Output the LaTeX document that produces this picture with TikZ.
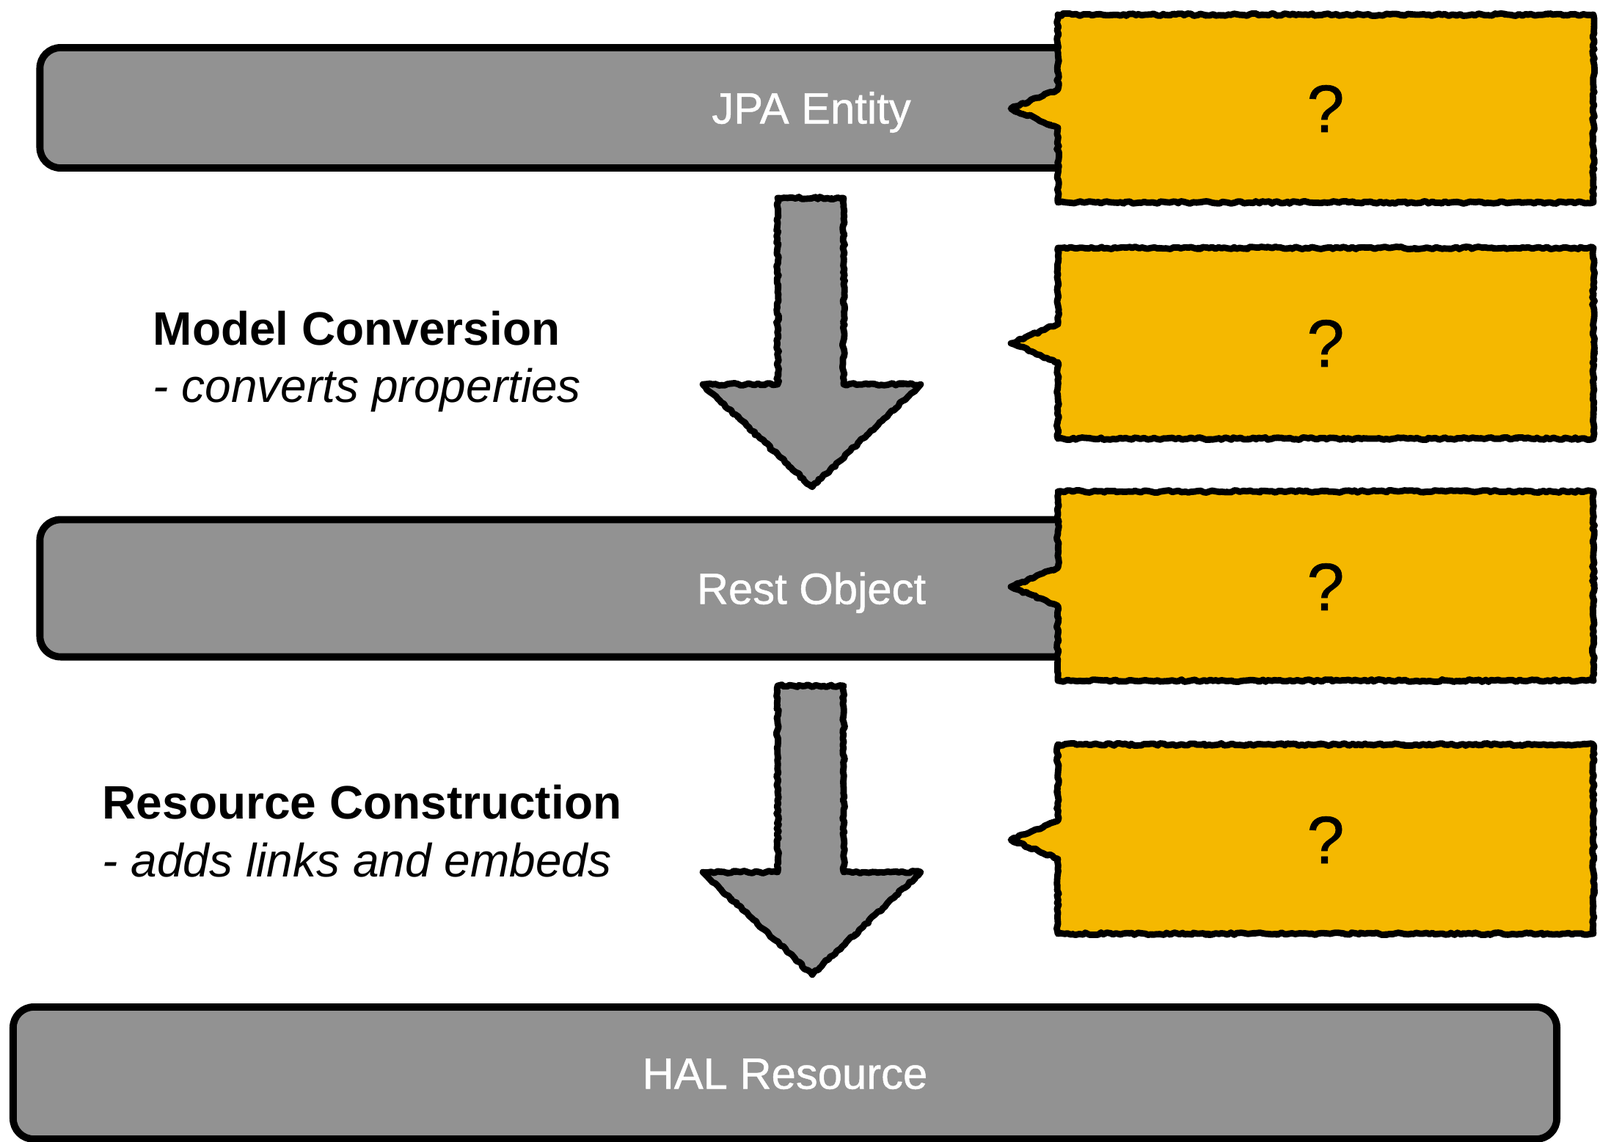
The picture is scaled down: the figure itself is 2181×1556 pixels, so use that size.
\documentclass[tikz,border=0pt]{standalone}
\usepackage{fontspec}
\setmainfont{Liberation Sans}
\newfontfamily\medsans{Liberation Sans}[FakeBold=0.8]
\usetikzlibrary{decorations.pathmorphing}
\definecolor{boxgray}{RGB}{146,146,146}
\definecolor{callyellow}{RGB}{245,184,0}
\begin{document}
\begin{tikzpicture}[x=0.01cm,y=-0.01cm,
  graybox/.style={draw=black, line width=2.8pt, fill=boxgray, rounded corners=8pt, text=white, font=\medsans\fontsize{17}{20}\selectfont, inner sep=0pt, text height=12.2pt, text depth=0pt},
  rough/.style={decorate, decoration={random steps, segment length=1.2pt, amplitude=0.45pt}, line join=round},
  scratch/.style={decorate, decoration={random steps, segment length=1.5pt, amplitude=0.9pt}, line join=round},
  qmark/.style={font=\medsans\fontsize{26}{30}\selectfont, text=black, inner sep=0pt},
  headtext/.style={font=\bfseries\fontsize{18.2}{22}\selectfont, anchor=base west, inner sep=0pt},
  subtext/.style={font=\itshape\fontsize{18.2}{22}\selectfont, anchor=base west, inner sep=0pt},
]
\useasboundingbox (0,0) rectangle (2181,1556);
\node[graybox, minimum width=21.02cm, minimum height=1.64cm] (jpa) at (1106,147) {JPA Entity};
\node[graybox, minimum width=21.02cm, minimum height=1.87cm] (rest) at (1106,802) {Rest Object};
\node[graybox, minimum width=21.03cm, minimum height=1.80cm] (hal) at (1070,1463) {HAL Resource};
% callouts
\foreach \t/\b/\m/\n in {20/276/148/q1, 338/598/468/q2, 670/928/800/q3, 1015/1273/1145/q4}{
  \fill[callyellow] (1442,\t) -- (2172,\t) -- (2172,\b) -- (1442,\b) -- (1442,\m+26) -- (1378,\m) -- (1442,\m-26) -- cycle;
  \draw[rough, line width=2.5pt] (1442,\t) -- (2172,\t) -- (2172,\b) -- (1442,\b) -- (1442,\m+26) -- (1378,\m) -- (1442,\m-26) -- cycle;
  \draw[scratch, line width=0.6pt] (1442,\t) -- (2172,\t) -- (2172,\b) -- (1442,\b) -- (1442,\m+26) -- (1378,\m) -- (1442,\m-26) -- cycle;
  \node[qmark] (\n) at (1807,\m) {?};
}
% block arrows
\foreach \o in {0,665}{
  \fill[boxgray] (1060,270+\o) -- (1150,270+\o) -- (1150,524+\o) -- (1255,524+\o) -- (1107,664+\o) -- (958,524+\o) -- (1060,524+\o) -- cycle;
  \draw[rough, line width=2.5pt] (1060,270+\o) -- (1150,270+\o) -- (1150,524+\o) -- (1255,524+\o) -- (1107,664+\o) -- (958,524+\o) -- (1060,524+\o) -- cycle;
  \draw[scratch, line width=0.6pt] (1060,270+\o) -- (1150,270+\o) -- (1150,524+\o) -- (1255,524+\o) -- (1107,664+\o) -- (958,524+\o) -- (1060,524+\o) -- cycle;
}
% labels
\node[headtext] (mc1) at (208,470) {Model Conversion};
\node[subtext] (mc2) at (208,548) {- converts properties};
\node[headtext] (rc1) at (139,1116) {Resource Construction};
\node[subtext] (rc2) at (139,1195) {- adds links and embeds};
\end{tikzpicture}
\end{document}
